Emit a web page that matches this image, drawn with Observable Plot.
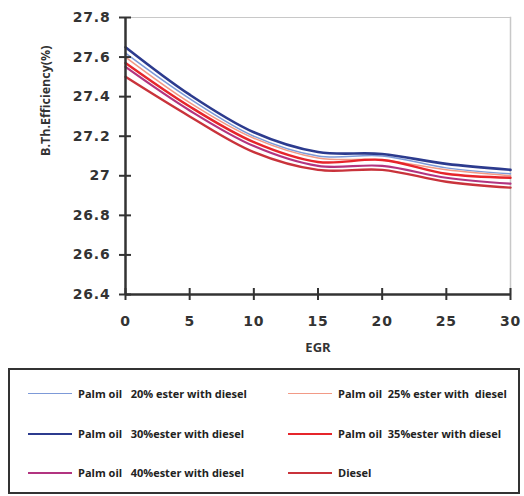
<!DOCTYPE html>
<html>
<head>
<meta charset="utf-8">
<script src="https://cdn.jsdelivr.net/npm/d3@7"></script>
<script src="https://cdn.jsdelivr.net/npm/@observablehq/plot@0.6"></script>
<style>
  body { margin: 0; background: #fff; }
  #legend {
    position: absolute; left: 8px; top: 368px; width: 508px; height: 122px;
    border: 2px solid #333; box-sizing: content-box;
    font-family: "Open Sans", sans-serif; font-weight: bold; font-size: 11px; color: #222;
  }
  .item { position: absolute; display: flex; align-items: center; white-space: pre; }
  .sw { display: inline-block; width: 44px; margin-right: 6px; }
  #chart svg g[aria-label="y-axis tick label"] text,
  #chart svg g[aria-label="x-axis tick label"] text { letter-spacing: 0.8px; }
</style>
</head>
<body>
<div id="chart"></div>
<div id="legend"></div>
<script>
const egr = [0, 5, 10, 15, 20, 25, 30];
const seriesNames = [
  "Palm oil   20% ester with diesel",
  "Palm oil  25% ester with  diesel",
  "Palm oil   30%ester with diesel",
  "Palm oil  35%ester with diesel",
  "Palm oil   40%ester with diesel",
  "Diesel"
];
const ester20 = [27.62, 27.39, 27.20, 27.10, 27.10, 27.04, 27.01];
const ester25 = [27.60, 27.37, 27.19, 27.09, 27.08, 27.03, 27.00];
const ester30 = [27.65, 27.41, 27.22, 27.12, 27.11, 27.06, 27.03];
const ester35 = [27.57, 27.35, 27.17, 27.07, 27.08, 27.01, 26.99];
const ester40 = [27.55, 27.33, 27.15, 27.05, 27.05, 26.99, 26.96];
const diesel  = [27.50, 27.30, 27.12, 27.03, 27.03, 26.97, 26.94];
const yTicks = [26.4, 26.6, 26.8, 27, 27.2, 27.4, 27.6, 27.8];
const xTicks = [0, 5, 10, 15, 20, 25, 30];

const seriesValues = [ester20, ester25, ester30, ester35, ester40, diesel];
const colors = ["#7d9ad8", "#f29a86", "#2c3b8e", "#e6252b", "#b23480", "#c9333b"];
const widths = [1.5, 1.5, 2.6, 2.4, 2.2, 2.4];

const rows = [];
seriesValues.forEach((vals, i) => vals.forEach((v, j) => rows.push({series: seriesNames[i], x: egr[j], y: v})));

const tickFont = "DejaVu Sans, sans-serif";
const chart = Plot.plot({
  width: 524,
  height: 360,
  marginLeft: 125,
  marginRight: 14,
  marginTop: 17,
  marginBottom: 66,
  style: {fontFamily: tickFont, fontWeight: "bold", fontSize: "14px", color: "#333", background: "#fff"},
  x: {domain: [0, 30], ticks: xTicks},
  y: {domain: [26.4, 27.8], ticks: yTicks},
  marks: [
    Plot.frame({anchor: "top", stroke: "#c8c8c8", strokeWidth: 1}),
    Plot.frame({anchor: "right", stroke: "#c8c8c8", strokeWidth: 1.5}),
    ...seriesValues.map((vals, i) => Plot.line(rows.filter(d => d.series === seriesNames[i]), {
      x: "x", y: "y", stroke: colors[i], strokeWidth: widths[i], curve: "catmull-rom"
    })),
    Plot.axisY({ticks: yTicks, tickSize: 6, tickPadding: 9, tickFormat: d => String(d), stroke: "#333", strokeWidth: 2, label: null, fill: "#333"}),
    Plot.axisY({ticks: yTicks, tickSize: -6, text: null, stroke: "#333", strokeWidth: 2, label: null}),
    Plot.axisX({ticks: xTicks, tickSize: 6, tickPadding: 16, stroke: "#333", strokeWidth: 2, label: null, fill: "#333"}),
    Plot.axisX({ticks: xTicks, tickSize: -6, text: null, stroke: "#333", strokeWidth: 2, label: null}),
    Plot.ruleX([0], {stroke: "#333", strokeWidth: 2.5}),
    Plot.ruleY([26.4], {stroke: "#333", strokeWidth: 2.5}),
    Plot.text(["EGR"], {frameAnchor: "bottom", dy: 57, fontSize: 13, fontFamily: "Open Sans, sans-serif", fontWeight: "bold", fill: "#333"}),
    Plot.text(["B.Th.Efficiency(%)"], {frameAnchor: "left", dx: -80, rotate: -90, fontSize: 12.5, fontFamily: "Open Sans, sans-serif", fontWeight: "bold", fill: "#333"})
  ]
});
document.getElementById("chart").appendChild(chart);

const legend = document.getElementById("legend");
const pos = [[18, 25], [278, 25], [18, 65], [278, 65], [18, 104], [278, 104]];
seriesNames.forEach((name, i) => {
  const it = document.createElement("div");
  it.className = "item";
  it.style.left = pos[i][0] + "px";
  it.style.top = (pos[i][1] - 9) + "px";
  const sw = document.createElement("span");
  sw.className = "sw";
  sw.style.borderTop = widths[i] + "px solid " + colors[i];
  it.appendChild(sw);
  it.appendChild(document.createTextNode(name));
  legend.appendChild(it);
});
</script>
</body>
</html>
